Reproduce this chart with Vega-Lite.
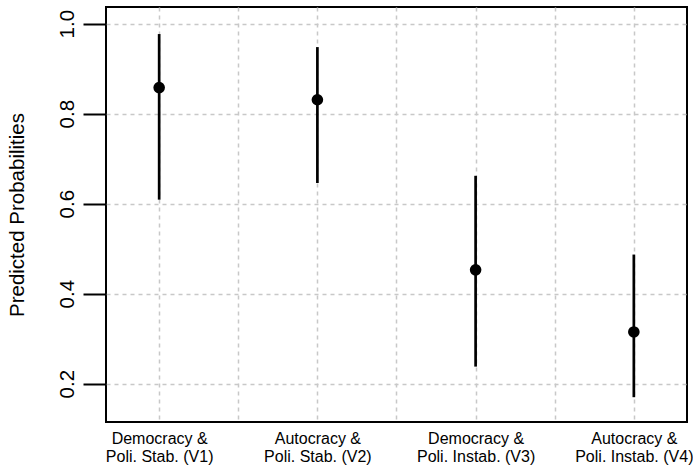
{
  "$schema": "https://vega.github.io/schema/vega-lite/v6.json",
  "width": 581,
  "height": 415,
  "autosize": {"type": "none"},
  "padding": {"left": 106, "top": 7, "right": 6, "bottom": 43},
  "background": "white",
  "config": {
    "font": "Liberation Sans",
    "view": {"stroke": "black", "strokeWidth": 2},
    "axis": {
      "domain": false,
      "gridColor": "#c8c8c8",
      "gridDash": [4, 4],
      "gridWidth": 1.5,
      "labelColor": "black",
      "titleColor": "black",
      "titleFontWeight": "normal"
    }
  },
  "data": {
    "values": [
      {"group": "V1", "x": 1, "est": 0.858, "lo": 0.609, "hi": 0.977},
      {"group": "V2", "x": 2, "est": 0.831, "lo": 0.646, "hi": 0.948},
      {"group": "V3", "x": 3, "est": 0.453, "lo": 0.238, "hi": 0.662},
      {"group": "V4", "x": 4, "est": 0.315, "lo": 0.170, "hi": 0.487}
    ]
  },
  "encoding": {
    "x": {
      "field": "x",
      "type": "quantitative",
      "scale": {"domain": [0.664, 4.336], "nice": false, "zero": false},
      "axis": {
        "title": null,
        "values": [1, 1.5, 2, 2.5, 3, 3.5, 4],
        "grid": true,
        "ticks": false,
        "tickSize": 0,
        "labelPadding": 8,
        "labelFontSize": 16,
        "labelLineHeight": 18.5,
        "labelFlush": false,
        "labelOverlap": false,
        "labelBound": false,
        "labelExpr": "datum.value == 1 ? ['Democracy &', 'Poli. Stab. (V1)'] : datum.value == 2 ? ['Autocracy &', 'Poli. Stab. (V2)'] : datum.value == 3 ? ['Democracy &', 'Poli. Instab. (V3)'] : datum.value == 4 ? ['Autocracy &', 'Poli. Instab. (V4)'] : ''"
      }
    }
  },
  "layer": [
    {
      "mark": {"type": "rule", "color": "black", "strokeWidth": 2.7},
      "encoding": {
        "y": {
          "field": "lo",
          "type": "quantitative",
          "scale": {"domain": [0.1149, 1.0371], "nice": false, "zero": false},
          "axis": {
            "title": "Predicted Probabilities",
            "titleFontSize": 20.5,
            "titlePadding": 30,
            "values": [0.2, 0.4, 0.6, 0.8, 1.0],
            "format": ".1f",
            "grid": true,
            "ticks": true,
            "tickSize": 23,
            "tickWidth": 2,
            "tickColor": "black",
            "labelAngle": -90,
            "labelAlign": "center",
            "labelBaseline": "alphabetic",
            "labelPadding": 10,
            "labelFontSize": 20.5,
            "labelFlush": false,
            "labelOverlap": false
          }
        },
        "y2": {"field": "hi"}
      }
    },
    {
      "mark": {"type": "circle", "color": "black", "opacity": 1, "size": 135},
      "encoding": {
        "y": {"field": "est", "type": "quantitative"}
      }
    }
  ]
}
